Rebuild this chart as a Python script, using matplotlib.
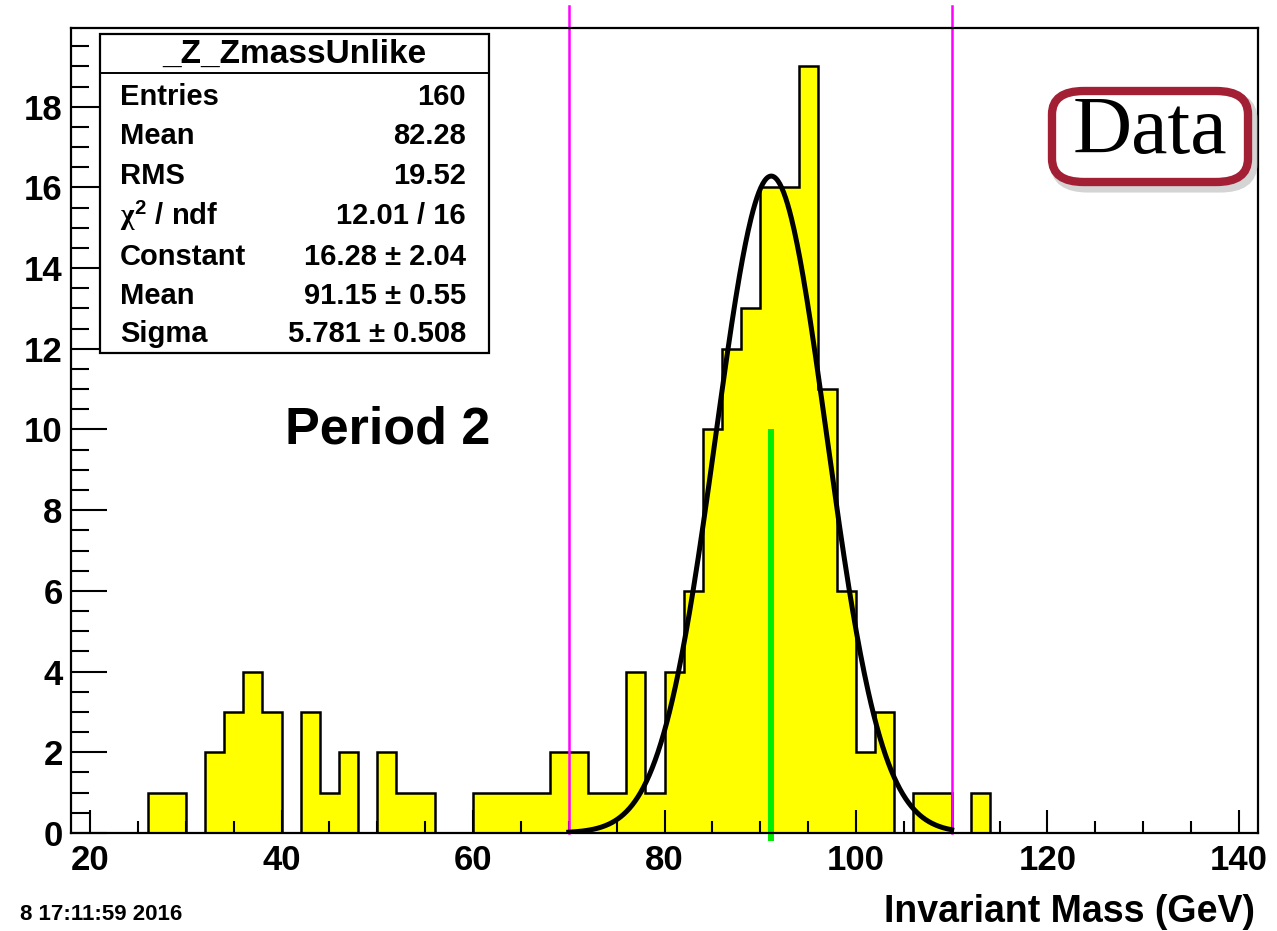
import numpy as np
import matplotlib
matplotlib.use('Agg')
import matplotlib.pyplot as plt
from matplotlib.patches import Rectangle, FancyBboxPatch
from matplotlib.lines import Line2D

# histogram: 2 GeV bins from 18 to 142 GeV
bin_lo = 18
bin_w = 2
counts = [0, 0, 0, 0, 1, 1, 0, 2, 3, 4, 3, 0, 3, 1, 2, 0, 2, 1, 1, 0, 0,
          1, 1, 1, 1, 2, 2, 1, 1, 4, 1,
          4, 6, 10, 12, 13, 16, 16, 19, 11, 6,
          2, 3, 0, 1, 1, 0, 1,
          0, 0, 0, 0, 0, 0, 0, 0, 0, 0, 0, 0, 0, 0]

# gaussian fit result
fit_const = 16.28
fit_mean = 91.15
fit_sigma = 5.781
fit_range = [70, 110]
green_top = 10

stats_labels = ['Entries', 'Mean', 'RMS', r'$\chi^{2}$ / ndf', 'Constant', 'Mean', 'Sigma']
stats_values = ['160', '82.28', '19.52', '12.01 / 16',
                u'16.28 \u00b1 2.04', u'91.15 \u00b1 0.55', u'5.781 \u00b1 0.508']

W, H = 1277, 931
fig = plt.figure(figsize=(W / 100, H / 100), dpi=100)
plt.rcParams['font.family'] = ['Liberation Sans', 'DejaVu Sans']
plt.rcParams['font.weight'] = 'bold'
plt.rcParams['mathtext.fontset'] = 'custom'
plt.rcParams['mathtext.it'] = 'Liberation Serif'
plt.rcParams['mathtext.rm'] = 'Liberation Sans:bold'

ax = fig.add_axes([71 / W, 1 - 833 / H, (1258 - 71) / W, (833 - 28) / H])

edges = bin_lo + bin_w * np.arange(len(counts) + 1)
ax.stairs(counts, edges, fill=True, color='#ffff00', zorder=1)
ax.stairs(counts, edges, baseline=0, color='black', linewidth=1.8, zorder=2)

# ticks on top of bars
ax.set_axisbelow(False)
for s in ax.spines.values():
    s.set_linewidth(1.6)
    s.set_zorder(5)

ax.set_xlim(18, 142)
ax.set_ylim(0, 19.95)
ax.set_xticks([20, 40, 60, 80, 100, 120, 140])
ax.set_xticks(np.arange(20, 141, 5), minor=True)
ax.set_yticks(np.arange(0, 19, 2))
ax.set_yticks(np.arange(0, 19.9, 0.5), minor=True)
ax.tick_params(axis='x', which='major', direction='in', length=16.5, width=1.5, pad=8, labelsize=25)
ax.tick_params(axis='x', which='minor', direction='in', length=8.5, width=1.5)
ax.tick_params(axis='y', which='major', direction='in', length=26, width=1.5, pad=6, labelsize=25)
ax.tick_params(axis='y', which='minor', direction='in', length=13, width=1.5)
for t in ax.get_xticklabels() + ax.get_yticklabels():
    t.set_fontweight('bold')

# gaussian fit
xf = np.linspace(fit_range[0], fit_range[1], 400)
yf = fit_const * np.exp(-0.5 * ((xf - fit_mean) / fit_sigma) ** 2)
ax.plot(xf, yf, color='black', linewidth=3.6, zorder=4)

# range markers
for xr in fit_range:
    ax.plot([xr, xr], [0, 20.5], color='#ff00ff', linewidth=1.8, clip_on=False, zorder=3)
ax.plot([fit_mean, fit_mean], [-0.2, green_top], color='#00ee00', linewidth=4.3,
        clip_on=False, zorder=3, solid_capstyle='butt')

fig.text(285 / W, 1 - 430 / H, 'Period 2', fontsize=37.5, fontweight='bold',
         ha='left', va='center')

# stats box
bx0, bx1, by0, by1 = 100, 489, 34, 353
fig.patches.append(Rectangle((bx0 / W, 1 - by1 / H), (bx1 - bx0) / W, (by1 - by0) / H,
                             transform=fig.transFigure, facecolor='white',
                             edgecolor='black', linewidth=1.6, zorder=10))
fig.lines.append(Line2D([bx0 / W, bx1 / W], [1 - 73 / H, 1 - 73 / H],
                        transform=fig.transFigure, color='black', linewidth=1.4, zorder=11))
fig.text((bx0 + bx1) / 2 / W, 1 - 54 / H, '_Z_ZmassUnlike', ha='center', va='center',
         fontsize=24, fontweight='bold', zorder=12)
row_y = [97, 136, 176, 216, 257, 296, 334]
for lab, val, yy in zip(stats_labels, stats_values, row_y):
    fig.text(120 / W, 1 - yy / H, lab, ha='left', va='center', fontsize=21,
             fontweight='bold', zorder=12)
    fig.text(466 / W, 1 - yy / H, val, ha='right', va='center', fontsize=21,
             fontweight='bold', zorder=12)

# "Data" badge with shadow
dx0, dx1, dy0, dy1 = 1052, 1248, 91, 182
fig.patches.append(FancyBboxPatch(((dx0 + 4) / W, 1 - (dy1 + 5) / H), (dx1 - dx0) / W,
                                  (dy1 - dy0) / H, boxstyle='round,pad=0,rounding_size=0.025',
                                  transform=fig.transFigure, facecolor='none',
                                  edgecolor='#b8b8b8', linewidth=8, alpha=0.6, zorder=9))
fig.patches.append(FancyBboxPatch((dx0 / W, 1 - dy1 / H), (dx1 - dx0) / W,
                                  (dy1 - dy0) / H, boxstyle='round,pad=0,rounding_size=0.025',
                                  transform=fig.transFigure, facecolor='white',
                                  edgecolor='#a31f34', linewidth=6, zorder=10))
fig.text((dx0 + dx1) / 2 / W, 1 - 133 / H, 'Data', ha='center', va='center',
         fontsize=59, fontweight='normal', family=['Liberation Serif', 'DejaVu Serif'], zorder=12)

# axis title and date stamp
fig.text(1255 / W, 1 - 912 / H, 'Invariant Mass (GeV)', ha='right', va='center',
         fontsize=27, fontweight='bold')
fig.text(20 / W, 1 - 915 / H, '8 17:11:59 2016', ha='left', va='center', fontsize=16,
         fontweight='bold', family=['Liberation Sans Narrow', 'Liberation Sans', 'DejaVu Sans'])

fig.savefig('out.png', dpi=100)
